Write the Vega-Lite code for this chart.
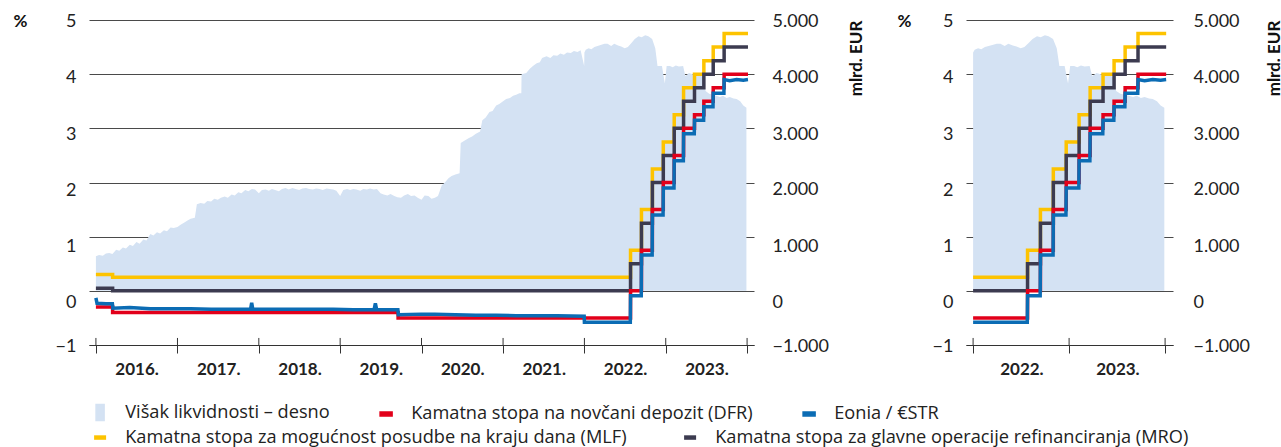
{
"$schema": "https://vega.github.io/schema/vega-lite/v6.json",
"background": "white",
"padding": {"left": 13, "top": 12, "right": 0, "bottom": 0},
"spacing": 33,
"config": {"font": "Lato", "view": {"stroke": null}, "axis": {"labelFont": "Lato", "titleFont": "Lato", "labelColor": "#222", "titleColor": "#111"},
 "legend": {"labelFont": "Open Sans", "labelFontSize": 18.2, "labelColor": "#222", "labelLimit": 0, "symbolSize": 144, "labelOffset": 16, "orient": "none", "direction": "horizontal"}},
"datasets": {
"liq": [
{"d":"2016-01-01","v":640},{"d":"2016-01-15","v":660},{"d":"2016-02-01","v":650},{"d":"2016-02-15","v":690},{"d":"2016-03-01","v":700},{"d":"2016-03-15","v":680},{"d":"2016-04-01","v":760},{"d":"2016-04-15","v":740},{"d":"2016-05-01","v":800},{"d":"2016-05-15","v":780},{"d":"2016-06-01","v":850},{"d":"2016-06-15","v":830},{"d":"2016-07-01","v":900},{"d":"2016-07-15","v":870},{"d":"2016-08-01","v":950},{"d":"2016-08-15","v":930},{"d":"2016-09-01","v":1050},{"d":"2016-09-15","v":1020},{"d":"2016-10-01","v":1080},{"d":"2016-10-15","v":1060},{"d":"2016-11-01","v":1120},{"d":"2016-11-15","v":1100},{"d":"2016-12-01","v":1170},{"d":"2016-12-15","v":1160},
{"d":"2017-01-01","v":1180},{"d":"2017-01-15","v":1220},{"d":"2017-02-01","v":1260},{"d":"2017-02-15","v":1300},{"d":"2017-03-01","v":1330},{"d":"2017-03-20","v":1350},{"d":"2017-03-29","v":1600},{"d":"2017-04-15","v":1620},{"d":"2017-05-01","v":1610},{"d":"2017-05-15","v":1660},{"d":"2017-06-01","v":1650},{"d":"2017-06-15","v":1700},{"d":"2017-07-01","v":1680},{"d":"2017-07-15","v":1720},{"d":"2017-08-01","v":1740},{"d":"2017-08-15","v":1720},{"d":"2017-09-01","v":1780},{"d":"2017-09-15","v":1760},{"d":"2017-10-01","v":1820},{"d":"2017-10-15","v":1800},{"d":"2017-11-01","v":1860},{"d":"2017-11-15","v":1840},{"d":"2017-12-01","v":1880},{"d":"2017-12-15","v":1870},
{"d":"2018-01-01","v":1800},{"d":"2018-01-15","v":1860},{"d":"2018-02-01","v":1870},{"d":"2018-02-15","v":1850},{"d":"2018-03-01","v":1880},{"d":"2018-03-15","v":1860},{"d":"2018-04-01","v":1840},{"d":"2018-04-15","v":1880},{"d":"2018-05-01","v":1900},{"d":"2018-05-15","v":1870},{"d":"2018-06-01","v":1900},{"d":"2018-06-15","v":1880},{"d":"2018-07-01","v":1860},{"d":"2018-07-15","v":1890},{"d":"2018-08-01","v":1900},{"d":"2018-08-15","v":1880},{"d":"2018-09-01","v":1870},{"d":"2018-09-15","v":1890},{"d":"2018-10-01","v":1880},{"d":"2018-10-15","v":1860},{"d":"2018-11-01","v":1890},{"d":"2018-11-15","v":1880},{"d":"2018-12-01","v":1870},{"d":"2018-12-15","v":1850},
{"d":"2019-01-01","v":1750},{"d":"2019-01-15","v":1860},{"d":"2019-02-01","v":1880},{"d":"2019-02-15","v":1860},{"d":"2019-03-01","v":1880},{"d":"2019-03-15","v":1870},{"d":"2019-04-01","v":1850},{"d":"2019-04-15","v":1880},{"d":"2019-05-01","v":1870},{"d":"2019-05-15","v":1890},{"d":"2019-06-01","v":1870},{"d":"2019-06-15","v":1880},{"d":"2019-07-01","v":1800},{"d":"2019-07-15","v":1780},{"d":"2019-08-01","v":1760},{"d":"2019-08-15","v":1790},{"d":"2019-09-01","v":1750},{"d":"2019-09-15","v":1730},{"d":"2019-10-01","v":1720},{"d":"2019-10-15","v":1760},{"d":"2019-11-01","v":1790},{"d":"2019-11-15","v":1750},{"d":"2019-12-01","v":1760},{"d":"2019-12-15","v":1720},
{"d":"2020-01-01","v":1680},{"d":"2020-01-15","v":1760},{"d":"2020-02-01","v":1750},{"d":"2020-02-15","v":1700},{"d":"2020-03-01","v":1720},{"d":"2020-03-15","v":1750},{"d":"2020-04-01","v":1950},{"d":"2020-04-15","v":2000},{"d":"2020-05-01","v":2080},{"d":"2020-05-15","v":2120},{"d":"2020-06-01","v":2150},{"d":"2020-06-20","v":2170},{"d":"2020-06-25","v":2730},{"d":"2020-07-15","v":2780},{"d":"2020-08-01","v":2820},{"d":"2020-08-15","v":2850},{"d":"2020-09-01","v":2900},{"d":"2020-09-20","v":2940},{"d":"2020-09-30","v":3150},{"d":"2020-10-15","v":3200},{"d":"2020-11-01","v":3300},{"d":"2020-11-15","v":3320},{"d":"2020-12-01","v":3420},{"d":"2020-12-15","v":3450},
{"d":"2021-01-01","v":3500},{"d":"2021-01-15","v":3540},{"d":"2021-02-01","v":3560},{"d":"2021-02-15","v":3600},{"d":"2021-03-01","v":3620},{"d":"2021-03-15","v":3650},{"d":"2021-03-24","v":3650},{"d":"2021-03-25","v":4000},{"d":"2021-04-15","v":4020},{"d":"2021-05-01","v":4100},{"d":"2021-05-15","v":4150},{"d":"2021-06-01","v":4200},{"d":"2021-06-15","v":4220},{"d":"2021-06-25","v":4300},{"d":"2021-07-15","v":4330},{"d":"2021-08-01","v":4300},{"d":"2021-08-15","v":4350},{"d":"2021-09-01","v":4340},{"d":"2021-09-15","v":4380},{"d":"2021-10-01","v":4360},{"d":"2021-10-15","v":4400},{"d":"2021-11-01","v":4390},{"d":"2021-11-15","v":4430},{"d":"2021-12-01","v":4410},{"d":"2021-12-15","v":4440},{"d":"2021-12-31","v":4150},
{"d":"2022-01-01","v":4400},{"d":"2022-01-07","v":4450},{"d":"2022-01-20","v":4480},{"d":"2022-02-01","v":4460},{"d":"2022-02-15","v":4500},{"d":"2022-03-01","v":4520},{"d":"2022-03-15","v":4540},{"d":"2022-04-01","v":4560},{"d":"2022-04-15","v":4560},{"d":"2022-05-01","v":4520},{"d":"2022-05-15","v":4560},{"d":"2022-06-01","v":4530},{"d":"2022-06-15","v":4510},{"d":"2022-07-01","v":4480},{"d":"2022-07-15","v":4500},{"d":"2022-08-01","v":4580},{"d":"2022-08-15","v":4650},{"d":"2022-09-01","v":4700},{"d":"2022-09-15","v":4680},{"d":"2022-10-01","v":4720},{"d":"2022-10-15","v":4700},{"d":"2022-11-01","v":4650},{"d":"2022-11-15","v":4480},{"d":"2022-11-25","v":4150},{"d":"2022-12-15","v":4150},{"d":"2022-12-28","v":3830},
{"d":"2023-01-05","v":4150},{"d":"2023-01-20","v":4150},{"d":"2023-02-01","v":4130},{"d":"2023-02-15","v":4160},{"d":"2023-03-01","v":4140},{"d":"2023-03-20","v":4150},{"d":"2023-03-30","v":3960},{"d":"2023-04-15","v":4020},{"d":"2023-05-01","v":4000},{"d":"2023-05-15","v":3980},{"d":"2023-06-01","v":4000},{"d":"2023-06-15","v":3950},{"d":"2023-06-29","v":3690},{"d":"2023-07-15","v":3640},{"d":"2023-08-01","v":3620},{"d":"2023-08-15","v":3600},{"d":"2023-09-01","v":3580},{"d":"2023-09-15","v":3600},{"d":"2023-10-01","v":3560},{"d":"2023-10-15","v":3580},{"d":"2023-11-01","v":3550},{"d":"2023-11-15","v":3540},{"d":"2023-12-01","v":3500},{"d":"2023-12-15","v":3420},{"d":"2023-12-29","v":3380}
],
"pol": [
{"d":"2016-01-01","s":"MLF","v":0.30},{"d":"2016-03-16","s":"MLF","v":0.25},{"d":"2022-01-01","s":"MLF","v":0.25},{"d":"2022-07-27","s":"MLF","v":0.75},{"d":"2022-09-14","s":"MLF","v":1.50},{"d":"2022-11-02","s":"MLF","v":2.25},{"d":"2022-12-21","s":"MLF","v":2.75},{"d":"2023-02-08","s":"MLF","v":3.25},{"d":"2023-03-22","s":"MLF","v":3.75},{"d":"2023-05-10","s":"MLF","v":4.00},{"d":"2023-06-21","s":"MLF","v":4.25},{"d":"2023-08-02","s":"MLF","v":4.50},{"d":"2023-09-20","s":"MLF","v":4.75},{"d":"2024-01-05","s":"MLF","v":4.75},
{"d":"2016-01-01","s":"MRO","v":0.05},{"d":"2016-03-16","s":"MRO","v":0.00},{"d":"2022-01-01","s":"MRO","v":0.00},{"d":"2022-07-27","s":"MRO","v":0.50},{"d":"2022-09-14","s":"MRO","v":1.25},{"d":"2022-11-02","s":"MRO","v":2.00},{"d":"2022-12-21","s":"MRO","v":2.50},{"d":"2023-02-08","s":"MRO","v":3.00},{"d":"2023-03-22","s":"MRO","v":3.50},{"d":"2023-05-10","s":"MRO","v":3.75},{"d":"2023-06-21","s":"MRO","v":4.00},{"d":"2023-08-02","s":"MRO","v":4.25},{"d":"2023-09-20","s":"MRO","v":4.50},{"d":"2024-01-05","s":"MRO","v":4.50},
{"d":"2016-01-01","s":"DFR","v":-0.30},{"d":"2016-03-16","s":"DFR","v":-0.40},{"d":"2019-09-18","s":"DFR","v":-0.50},{"d":"2022-01-01","s":"DFR","v":-0.50},{"d":"2022-07-27","s":"DFR","v":0.00},{"d":"2022-09-14","s":"DFR","v":0.75},{"d":"2022-11-02","s":"DFR","v":1.50},{"d":"2022-12-21","s":"DFR","v":2.00},{"d":"2023-02-08","s":"DFR","v":2.50},{"d":"2023-03-22","s":"DFR","v":3.00},{"d":"2023-05-10","s":"DFR","v":3.25},{"d":"2023-06-21","s":"DFR","v":3.50},{"d":"2023-08-02","s":"DFR","v":3.75},{"d":"2023-09-20","s":"DFR","v":4.00},{"d":"2024-01-05","s":"DFR","v":4.00}
],
"est": [
{"d":"2016-01-01","v":-0.13},{"d":"2016-01-06","v":-0.23},{"d":"2016-02-15","v":-0.24},{"d":"2016-03-15","v":-0.24},{"d":"2016-03-17","v":-0.32},{"d":"2016-06-01","v":-0.31},{"d":"2016-09-01","v":-0.33},{"d":"2016-12-01","v":-0.33},{"d":"2017-03-01","v":-0.33},{"d":"2017-06-01","v":-0.34},{"d":"2017-09-01","v":-0.34},{"d":"2017-11-25","v":-0.34},{"d":"2017-11-30","v":-0.22},{"d":"2017-12-05","v":-0.34},{"d":"2018-03-01","v":-0.34},{"d":"2018-06-01","v":-0.34},{"d":"2018-09-01","v":-0.34},{"d":"2018-12-01","v":-0.34},{"d":"2019-03-01","v":-0.35},{"d":"2019-06-02","v":-0.35},{"d":"2019-06-08","v":-0.23},{"d":"2019-06-14","v":-0.35},{"d":"2019-09-17","v":-0.35},{"d":"2019-09-19","v":-0.44},{"d":"2019-12-31","v":-0.43},{"d":"2020-03-01","v":-0.43},{"d":"2020-06-01","v":-0.44},{"d":"2020-09-01","v":-0.45},{"d":"2020-12-01","v":-0.45},{"d":"2021-03-01","v":-0.46},{"d":"2021-06-01","v":-0.46},{"d":"2021-09-01","v":-0.46},{"d":"2021-12-31","v":-0.47},{"d":"2022-01-01","v":-0.58},{"d":"2022-07-26","v":-0.58},{"d":"2022-07-27","v":-0.09},{"d":"2022-09-13","v":-0.09},{"d":"2022-09-14","v":0.66},{"d":"2022-11-01","v":0.66},{"d":"2022-11-02","v":1.40},{"d":"2022-12-20","v":1.40},{"d":"2022-12-21","v":1.90},{"d":"2023-02-07","v":1.90},{"d":"2023-02-08","v":2.40},{"d":"2023-03-21","v":2.40},{"d":"2023-03-22","v":2.90},{"d":"2023-05-09","v":2.90},{"d":"2023-05-10","v":3.15},{"d":"2023-06-20","v":3.15},{"d":"2023-06-21","v":3.40},{"d":"2023-08-01","v":3.40},{"d":"2023-08-02","v":3.65},{"d":"2023-09-19","v":3.65},{"d":"2023-09-20","v":3.90},{"d":"2023-10-15","v":3.88},{"d":"2023-11-15","v":3.90},{"d":"2023-12-15","v":3.89},{"d":"2024-01-05","v":3.90}
],
"yr": [{"d":"2016-01-01"},{"d":"2017-01-01"},{"d":"2018-01-01"},{"d":"2019-01-01"},{"d":"2020-01-01"},{"d":"2021-01-01"},{"d":"2022-01-01"},{"d":"2023-01-01"},{"d":"2024-01-01"}]
},
"hconcat": [
{
"width": 665, "height": 325,
"resolve": {"scale": {"y": "independent"}},
"layer": [
{
"data": {"name": "liq"},
"mark": {"type": "area", "opacity": 1},
"encoding": {
"x": {"field": "d", "type": "temporal", "scale": {"domain": [{"year": 2015, "month": 12, "date": 1}, {"year": 2024, "month": 2, "date": 1}]},
 "axis": {"values": [{"year":2016,"month":1,"date":1},{"year":2017,"month":1,"date":1},{"year":2018,"month":1,"date":1},{"year":2019,"month":1,"date":1},{"year":2020,"month":1,"date":1},{"year":2021,"month":1,"date":1},{"year":2022,"month":1,"date":1},{"year":2023,"month":1,"date":1},{"year":2024,"month":1,"date":1}],
  "labelExpr": "year(datum.value) >= 2024 ? '' : timeFormat(datum.value, '%Y') + '.'", "labelOffset": 40.7, "tickSize": 8, "tickColor": "#333", "domainColor": "#333", "labelFontSize": 17, "labelFontWeight": "bold", "labelPadding": 8, "grid": false, "title": null, "labelFlush": false, "labelOverlap": false, "labelBound": false}},
"y": {"field": "v", "type": "quantitative", "scale": {"domain": [-1000, 5000], "nice": false, "zero": false},
 "axis": {"orient": "right", "values": [-1000, 0, 1000, 2000, 3000, 4000, 5000], "grid": false, "domain": false, "ticks": false, "labelPadding": 18, "labelFontSize": 18,
  "labelExpr": "datum.value == 0 ? '0' : (datum.value < 0 ? '−' : '') + replace(format(abs(datum.value), ','), ',', '.')",
  "labelOffset": {"condition": [{"test": "datum.value == 0", "value": 12}, {"test": "datum.value == 1000", "value": 10}, {"test": "datum.value == 2000", "value": 7}, {"test": "datum.value == 3000", "value": 6}, {"test": "datum.value == 4000", "value": 3}], "value": 1},
  "title": "mlrd. EUR", "titleAngle": 270, "titleX": 102, "titleY": 38, "titleAlign": "center", "titleBaseline": "middle", "titleFontSize": 17, "titleFontWeight": "bold"}},
"y2": {"datum": 0},
"color": {"datum": "LIQ", "type": "nominal",
 "scale": {"domain": ["LIQ", "DFR", "EST"], "range": ["#d4e2f3", "#e2001a", "#0b6cb4"]},
 "legend": {"legendX": 2, "legendY": 383, "title": null, "columns": 3, "columnPadding": 47,
  "symbolType": {"expr": "datum.value == 'LIQ' ? 'M-0.67,-1.33H0.67V1.33H-0.67Z' : 'M-1,-0.33H1V0.33H-1Z'"},
  "labelExpr": "datum.value == 'LIQ' ? 'Višak likvidnosti – desno' : datum.value == 'DFR' ? 'Kamatna stopa na novčani depozit (DFR)' : 'Eonia / €STR'"}}
}
},
{
"layer": [
{"data": {"name": "pol"}, "transform": [{"filter": "datum.s == 'MLF'"}], "mark": {"type": "line", "interpolate": "step-after", "strokeWidth": 3.5},
 "encoding": {"x": {"field": "d", "type": "temporal"},
  "y": {"field": "v", "type": "quantitative", "scale": {"domain": [-1, 5], "nice": false, "zero": false},
   "axis": {"values": [-1, 0, 1, 2, 3, 4, 5], "grid": true, "gridColor": "#4a4a4a", "gridWidth": 1, "domain": false, "ticks": false, "labelPadding": 13, "labelFontSize": 18,
    "labelExpr": "datum.value < 0 ? '−' + format(-datum.value, 'd') : format(datum.value, 'd')",
    "labelOffset": {"condition": [{"test": "datum.value == 0", "value": 12}, {"test": "datum.value == 1", "value": 10}, {"test": "datum.value == 2", "value": 8}, {"test": "datum.value == 3", "value": 6}, {"test": "datum.value == 4", "value": 3}], "value": 1},
    "title": "%", "titleAngle": 0, "titleX": -69, "titleY": 1, "titleAlign": "center", "titleBaseline": "middle", "titleFontSize": 17, "titleFontWeight": "bold"}},
  "stroke": {"datum": "MLF", "type": "nominal",
   "scale": {"domain": ["MLF", "MRO"], "range": ["#fdc300", "#3c3b50"]},
   "legend": {"legendX": 2, "legendY": 408, "title": null, "columns": 2, "columnPadding": 48, "symbolType": "M-1,0H1", "symbolStrokeWidth": 4.5,
    "labelExpr": "datum.value == 'MLF' ? 'Kamatna stopa za mogućnost posudbe na kraju dana (MLF)' : 'Kamatna stopa za glavne operacije refinanciranja (MRO)'"}}}},
{"data": {"name": "pol"}, "transform": [{"filter": "datum.s == 'MRO'"}], "mark": {"type": "line", "interpolate": "step-after", "strokeWidth": 3.5},
 "encoding": {"x": {"field": "d", "type": "temporal"}, "y": {"field": "v", "type": "quantitative"}, "stroke": {"datum": "MRO", "type": "nominal"}}},
{"data": {"name": "pol"}, "transform": [{"filter": "datum.s == 'DFR'"}], "mark": {"type": "line", "interpolate": "step-after", "strokeWidth": 3.5},
 "encoding": {"x": {"field": "d", "type": "temporal"}, "y": {"field": "v", "type": "quantitative"}, "color": {"datum": "DFR", "type": "nominal"}}},
{"data": {"name": "est"}, "mark": {"type": "line", "strokeWidth": 3.5},
 "encoding": {"x": {"field": "d", "type": "temporal"}, "y": {"field": "v", "type": "quantitative"}, "color": {"datum": "EST", "type": "nominal"}}},
{"data": {"name": "yr"}, "mark": {"type": "rule", "color": "#333", "strokeWidth": 1},
 "encoding": {"x": {"field": "d", "type": "temporal"}, "y": {"datum": -1}, "y2": {"datum": -0.87}}}
]
}
]
},
{
"width": 207, "height": 325,
"resolve": {"scale": {"y": "independent"}},
"layer": [
{
"data": {"name": "liq"},
"transform": [{"filter": "utcyear(datum.d) >= 2022"}],
"mark": {"type": "area", "opacity": 1},
"encoding": {
"x": {"field": "d", "type": "temporal", "scale": {"domain": [{"year": 2021, "month": 12, "date": 5}, {"year": 2024, "month": 1, "date": 31}]},
 "axis": {"values": [{"year":2022,"month":1,"date":1},{"year":2023,"month":1,"date":1},{"year":2024,"month":1,"date":1}],
  "labelExpr": "year(datum.value) >= 2024 ? '' : timeFormat(datum.value, '%Y') + '.'", "labelOffset": 48.3, "tickSize": 8, "tickColor": "#333", "domainColor": "#333", "labelFontSize": 17, "labelFontWeight": "bold", "labelPadding": 8, "grid": false, "title": null, "labelFlush": false, "labelOverlap": false, "labelBound": false}},
"y": {"field": "v", "type": "quantitative", "scale": {"domain": [-1000, 5000], "nice": false, "zero": false},
 "axis": {"orient": "right", "values": [-1000, 0, 1000, 2000, 3000, 4000, 5000], "grid": false, "domain": false, "ticks": false, "labelPadding": 20, "labelFontSize": 18,
  "labelExpr": "datum.value == 0 ? '0' : (datum.value < 0 ? '−' : '') + replace(format(abs(datum.value), ','), ',', '.')",
  "labelOffset": {"condition": [{"test": "datum.value == 0", "value": 12}, {"test": "datum.value == 1000", "value": 10}, {"test": "datum.value == 2000", "value": 7}, {"test": "datum.value == 3000", "value": 6}, {"test": "datum.value == 4000", "value": 3}], "value": 1},
  "title": "mlrd. EUR", "titleAngle": 270, "titleX": 101, "titleY": 38, "titleAlign": "center", "titleBaseline": "middle", "titleFontSize": 17, "titleFontWeight": "bold"}},
"y2": {"datum": 0},
"color": {"datum": "LIQ", "type": "nominal"}
}
},
{
"layer": [
{"data": {"name": "pol"}, "transform": [{"filter": "datum.s == 'MLF' && utcyear(datum.d) >= 2022"}], "mark": {"type": "line", "interpolate": "step-after", "strokeWidth": 3.5},
 "encoding": {"x": {"field": "d", "type": "temporal"},
  "y": {"field": "v", "type": "quantitative", "scale": {"domain": [-1, 5], "nice": false, "zero": false},
   "axis": {"values": [-1, 0, 1, 2, 3, 4, 5], "grid": true, "gridColor": "#4a4a4a", "gridWidth": 1, "domain": false, "ticks": false, "labelPadding": 13, "labelFontSize": 18,
    "labelExpr": "datum.value < 0 ? '−' + format(-datum.value, 'd') : format(datum.value, 'd')",
    "labelOffset": {"condition": [{"test": "datum.value == 0", "value": 12}, {"test": "datum.value == 1", "value": 10}, {"test": "datum.value == 2", "value": 8}, {"test": "datum.value == 3", "value": 6}, {"test": "datum.value == 4", "value": 3}], "value": 1},
    "title": "%", "titleAngle": 0, "titleX": -62, "titleY": 1, "titleAlign": "center", "titleBaseline": "middle", "titleFontSize": 17, "titleFontWeight": "bold"}},
  "stroke": {"datum": "MLF", "type": "nominal"}}},
{"data": {"name": "pol"}, "transform": [{"filter": "datum.s == 'MRO' && utcyear(datum.d) >= 2022"}], "mark": {"type": "line", "interpolate": "step-after", "strokeWidth": 3.5},
 "encoding": {"x": {"field": "d", "type": "temporal"}, "y": {"field": "v", "type": "quantitative"}, "stroke": {"datum": "MRO", "type": "nominal"}}},
{"data": {"name": "pol"}, "transform": [{"filter": "datum.s == 'DFR' && utcyear(datum.d) >= 2022"}], "mark": {"type": "line", "interpolate": "step-after", "strokeWidth": 3.5},
 "encoding": {"x": {"field": "d", "type": "temporal"}, "y": {"field": "v", "type": "quantitative"}, "color": {"datum": "DFR", "type": "nominal"}}},
{"data": {"name": "est"}, "transform": [{"filter": "utcyear(datum.d) >= 2022"}], "mark": {"type": "line", "strokeWidth": 3.5},
 "encoding": {"x": {"field": "d", "type": "temporal"}, "y": {"field": "v", "type": "quantitative"}, "color": {"datum": "EST", "type": "nominal"}}},
{"data": {"name": "yr"}, "transform": [{"filter": "utcyear(datum.d) >= 2022"}], "mark": {"type": "rule", "color": "#333", "strokeWidth": 1},
 "encoding": {"x": {"field": "d", "type": "temporal"}, "y": {"datum": -1}, "y2": {"datum": -0.87}}}
]
}
]
}
]
}
